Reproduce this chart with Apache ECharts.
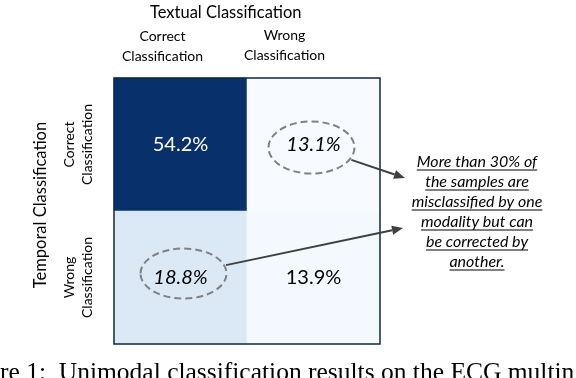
<!DOCTYPE html>
<html><head><meta charset="utf-8">
<script src="https://cdn.jsdelivr.net/npm/echarts@6/dist/echarts.min.js"></script>
<style>html,body{margin:0;padding:0;background:#fff}#c{width:576px;height:378px}</style>
</head><body><div id="c"></div>
<script>
// ---- data ----
const xTitle = 'Textual Classification';
const yTitle = 'Temporal Classification';
const xCategories = ['Correct\nClassification', 'Wrong\nClassification'];
const yCategories = ['Correct\nClassification', 'Wrong\nClassification'];
// rows = temporal result, columns = textual result (percent of samples)
const rowTemporalCorrect = [54.2, 13.1];
const rowTemporalWrong = [18.8, 13.9];
const noteLines = ['More than 30% of', 'the samples are', 'misclassified by one', 'modality but can', 'be corrected by', 'another.'];
const caption = 're 1:  Unimodal classification results on the ECG multin';

// ---- build ----
const FONT = 'Lato';
const rows = [rowTemporalCorrect, rowTemporalWrong];
const vals = rows.flat();
const vmin = Math.min(...vals), vmax = Math.max(...vals);
const data = [];
rows.forEach((row, yi) => row.forEach((v, xi) => {
  data.push({
    value: [xi, yi, v],
    label: {
      color: v > (vmin + vmax) / 2 ? '#ffffff' : '#000000',
      fontStyle: xi !== yi ? 'italic' : 'normal'
    }
  });
}));

const chart = echarts.init(document.getElementById('c'), null, {renderer: 'canvas'});
const colPad = [[0, 36, 0, 0], [0, 58, 2, 0]];
chart.setOption({
  animation: false,
  backgroundColor: '#ffffff',
  textStyle: {fontFamily: FONT},
  title: {
    text: xTitle, left: 145, top: -1,
    textStyle: {fontFamily: FONT, fontSize: 16.5, fontWeight: 'normal', color: '#000'}
  },
  grid: {left: 114, top: 78, width: 266, height: 266},
  xAxis: {
    type: 'category', position: 'top', data: xCategories,
    axisLine: {show: false}, axisTick: {show: false}, splitLine: {show: false},
    axisLabel: {
      margin: 12, interval: 0, color: '#000', fontFamily: FONT, fontSize: 14, lineHeight: 20,
      formatter: (v, i) => v.split('\n').map(s => '{c' + i + '|' + s + '}').join('\n'),
      rich: {
        c0: {fontFamily: FONT, fontSize: 14, lineHeight: 20, color: '#000', padding: colPad[0]},
        c1: {fontFamily: FONT, fontSize: 14, lineHeight: 20, color: '#000', padding: colPad[1]}
      }
    }
  },
  yAxis: {
    type: 'category', inverse: true, data: yCategories,
    axisLine: {show: false}, axisTick: {show: false}, splitLine: {show: false},
    name: yTitle, nameLocation: 'middle', nameRotate: 90, nameGap: 65,
    nameTextStyle: {fontFamily: FONT, fontSize: 16.5, color: '#000', padding: [0, 0, 0, 12]},
    axisLabel: {
      rotate: 90, margin: 18, interval: 0, color: '#000', fontFamily: FONT, fontSize: 14, lineHeight: 18,
      align: 'center', verticalAlign: 'bottom'
    }
  },
  visualMap: {
    show: false, min: vmin, max: vmax, dimension: 2,
    inRange: {color: ['#f7fbff', '#deebf7', '#c6dbef', '#9ecae1', '#6baed6', '#4292c6', '#2171b5', '#08519c', '#08306b']}
  },
  series: [{
    type: 'heatmap', data: data,
    label: {show: true, fontFamily: FONT, fontSize: 20, formatter: p => p.value[2].toFixed(1) + '%'},
    emphasis: {disabled: true}
  }]
});

// ---- annotations (positioned from the axes) ----
const c00 = chart.convertToPixel({seriesIndex: 0}, [0, 0]);
const c11 = chart.convertToPixel({seriesIndex: 0}, [1, 1]);
const cw = c11[0] - c00[0], ch = c11[1] - c00[1];
const rect = {x: c00[0] - cw / 2, y: c00[1] - ch / 2, width: cw * 2, height: ch * 2};
const c10 = chart.convertToPixel({seriesIndex: 0}, [1, 0]);
const c01 = chart.convertToPixel({seriesIndex: 0}, [0, 1]);

const el1 = {cx: c10[0] - 2, cy: c10[1] + 3, rx: 43, ry: 26};
const el2 = {cx: c01[0] + 3, cy: c01[1] - 4, rx: 43, ry: 25};
const noteX = rect.x + rect.width + 97, noteY0 = 162, noteStep = 20;
const t1 = [rect.x + rect.width + 25, 178];
const t2 = [rect.x + rect.width + 23, 228];

function edge(e, t) {
  const dx = t[0] - e.cx, dy = t[1] - e.cy;
  const k = 1 / Math.sqrt((dx / e.rx) ** 2 + (dy / e.ry) ** 2);
  return [e.cx + dx * k + 2, e.cy + dy * k];
}
function arrow(p, q) {
  const ang = Math.atan2(q[1] - p[1], q[0] - p[0]);
  const L = 11, W = 4.5;
  const bx = q[0] - L * Math.cos(ang), by = q[1] - L * Math.sin(ang);
  const nx = -Math.sin(ang), ny = Math.cos(ang);
  return [
    {type: 'line', z: 100, shape: {x1: p[0], y1: p[1], x2: bx, y2: by}, style: {stroke: '#404040', lineWidth: 2}},
    {type: 'polygon', z: 100, shape: {points: [[q[0], q[1]], [bx + nx * W, by + ny * W], [bx - nx * W, by - ny * W]]}, style: {fill: '#404040'}}
  ];
}
function ellipse(e) {
  return {type: 'ellipse', z: 100, shape: e, style: {fill: 'none', stroke: '#808080', lineWidth: 2, lineDash: [7, 4]}};
}
const ctx = document.createElement('canvas').getContext('2d');
const noteFont = 'italic 16px ' + FONT;
ctx.font = noteFont;
const g = [
  {type: 'rect', z: 100, shape: rect, style: {fill: 'none', stroke: '#0e2a3d', lineWidth: 1.5}},
  ellipse(el1), ellipse(el2),
  ...arrow(edge(el1, t1), t1), ...arrow(edge(el2, t2), t2)
];
noteLines.forEach((s, i) => {
  const y = noteY0 + i * noteStep;
  const w = ctx.measureText(s).width;
  g.push({type: 'text', z: 100, style: {text: s, x: noteX, y: y, font: noteFont, fill: '#000',
    textAlign: 'center', textVerticalAlign: 'middle', align: 'center', verticalAlign: 'middle'}});
  g.push({type: 'line', z: 100, shape: {x1: noteX - w / 2, y1: y + 8, x2: noteX + w / 2, y2: y + 8},
    style: {stroke: '#000', lineWidth: 1}});
});
g.push({type: 'text', z: 100, style: {text: caption, x: 0, y: 386, font: '25.5px "Liberation Serif"', fill: '#000',
  textAlign: 'left', textVerticalAlign: 'bottom', align: 'left', verticalAlign: 'bottom'}});
chart.setOption({graphic: g});
</script></body></html>
